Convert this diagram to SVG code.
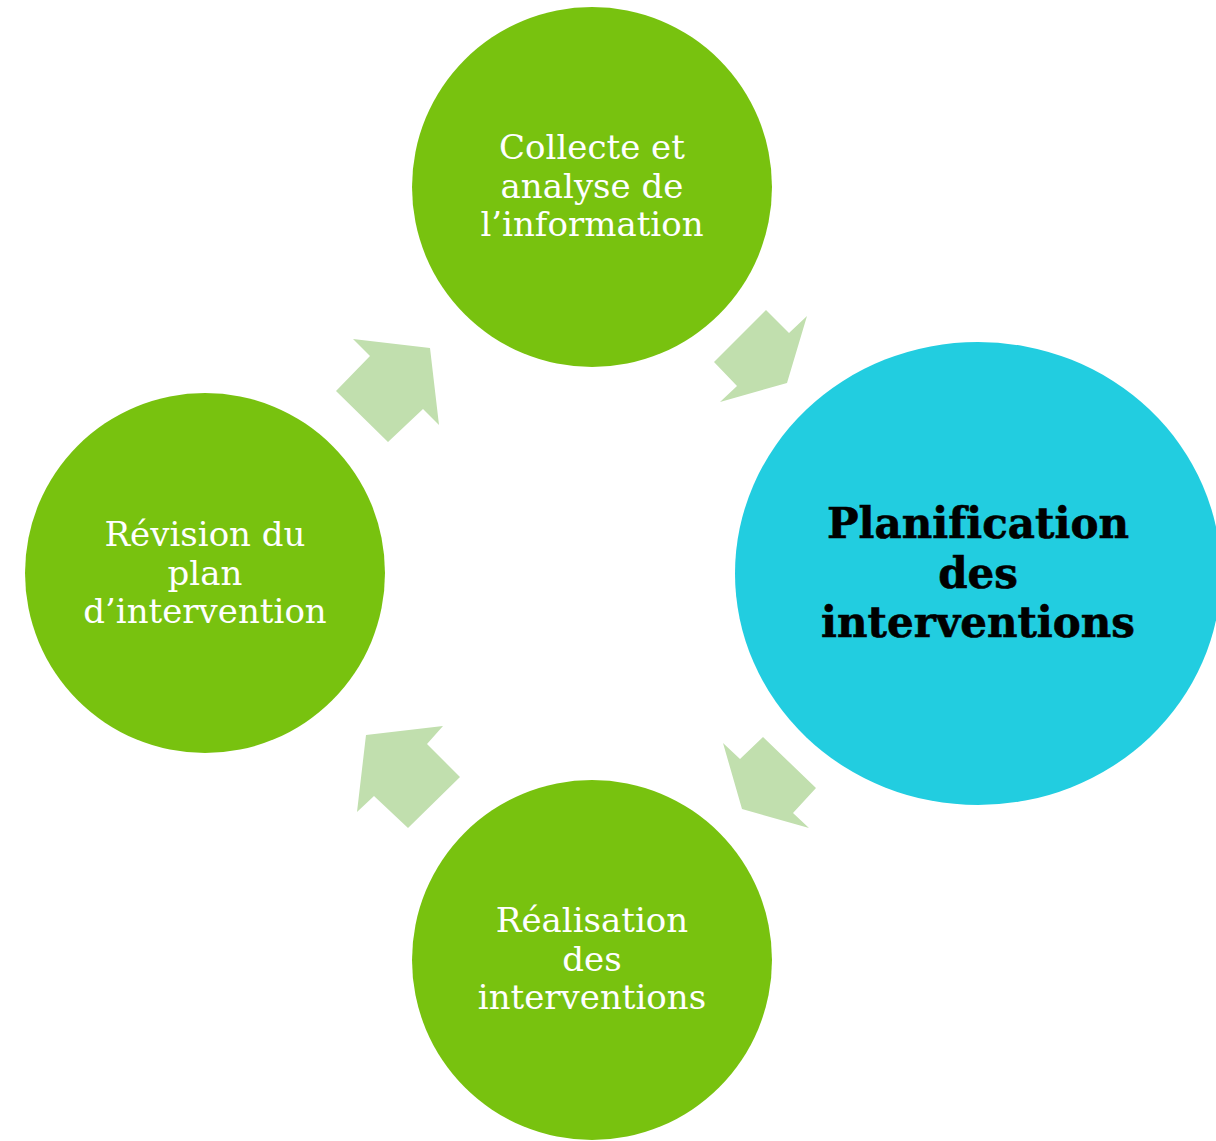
<svg xmlns="http://www.w3.org/2000/svg" width="1216" height="1141" viewBox="0 0 1216 1141">
<style>
.g{fill:#78C20F}
.c{fill:#22CDE0}
.a{fill:#C1DFAE}
.t{font-family:"DejaVu Serif","Liberation Serif",serif;font-size:34px;fill:#FFFFFF;text-anchor:middle;font-variant-ligatures:none}
.b{font-family:"DejaVu Serif","Liberation Serif",serif;font-size:42px;font-weight:bold;fill:#000000;stroke:#000000;stroke-width:0.6;text-anchor:middle;font-variant-ligatures:none}
</style>
<rect width="1216" height="1141" fill="#FFFFFF"/>
<g id="connectors">
<polygon class="a" points="766,310 789,333 807,316 787,383 720,402 737,386 714,362"/>
<polygon class="a" points="763,737 816,788 793,813 809,828 742,809 723,743 740,759"/>
<polygon class="a" points="460,777 408,828 374,796 357,812 366,735 443,726 427,744"/>
<polygon class="a" points="388,442 336,391 370,356 353,339 430,348 439,425 423,409"/>
</g>
<g id="node-collecte">
<circle class="g" cx="592" cy="187" r="180"/>
<text class="t" x="592" y="159">Collecte et</text>
<text class="t" x="592" y="198">analyse de</text>
<text class="t" x="592" y="236">l’information</text>
</g>
<g id="node-planification">
<ellipse class="c" cx="978" cy="573.5" rx="243" ry="231.5"/>
<text class="b" x="978" y="538">Planification</text>
<text class="b" x="978" y="588">des</text>
<text class="b" x="978" y="637">interventions</text>
</g>
<g id="node-realisation">
<circle class="g" cx="592" cy="960" r="180"/>
<text class="t" x="592" y="932">Réalisation</text>
<text class="t" x="592" y="971">des</text>
<text class="t" x="592" y="1009">interventions</text>
</g>
<g id="node-revision">
<circle class="g" cx="205" cy="573" r="180"/>
<text class="t" x="205" y="546">Révision du</text>
<text class="t" x="205" y="585">plan</text>
<text class="t" x="205" y="623">d’intervention</text>
</g>
</svg>
